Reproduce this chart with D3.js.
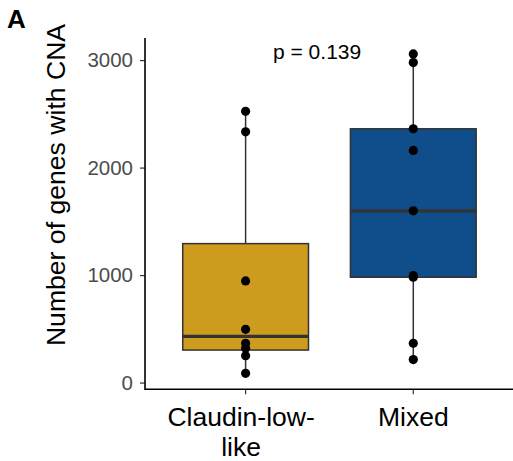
<!DOCTYPE html>
<head>
<meta charset="utf-8">
<script src="https://d3js.org/d3.v7.min.js"></script>
<style>
body { margin: 0; background-color: white; }
text { font-family: "Liberation Sans", Arial, Helvetica, sans-serif; }
</style>
</head>
<body>
<div id="my_dataviz"></div>
<script>

// data
var groups = ["Claudin-low-like", "Mixed"];
var groupLabels = [["Claudin-low-", "like"], ["Mixed"]];
var groupColors = ["#CD9B1D", "#104E8B"];
var claudinValues = [86, 250, 320, 365, 495, 946, 2333, 2523];
var mixedValues = [214, 366, 980, 995, 1598, 2160, 2361, 2977, 3057];
var yTicks = [0, 1000, 2000, 3000];
var pLabel = "p = 0.139";

var width = 513, height = 461;
var panel = {left: 145, right: 513.9, top: 38, bottom: 389.3};

var svg = d3.select("#my_dataviz")
  .append("svg")
    .attr("width", width)
    .attr("height", height);

var allValues = claudinValues.concat(mixedValues);
var lo = d3.min(allValues), hi = d3.max(allValues);
var pad = (hi - lo) * 0.05;

var y = d3.scaleLinear()
  .domain([lo - pad, hi + pad])
  .range([panel.bottom, panel.top]);

var x = d3.scaleBand()
  .domain(groups)
  .range([panel.left, panel.right])
  .paddingInner(0)
  .paddingOuter(0.1);

// box stats (R type 7 quantiles, whiskers at 1.5 IQR)
var series = [claudinValues, mixedValues];
var stats = series.map(function(vals, i) {
  var s = vals.slice().sort(d3.ascending);
  var q1 = d3.quantile(s, 0.25), med = d3.quantile(s, 0.5), q3 = d3.quantile(s, 0.75);
  var iqr = q3 - q1;
  var inside = s.filter(function(v) { return v >= q1 - 1.5 * iqr && v <= q3 + 1.5 * iqr; });
  return {group: groups[i], values: s, q1: q1, med: med, q3: q3,
          wlo: d3.min(inside), whi: d3.max(inside), color: groupColors[i]};
});

var boxW = x.bandwidth() * 0.75;

var g = svg.append("g");

stats.forEach(function(d) {
  var cx = x(d.group) + x.bandwidth() / 2;
  // whiskers
  g.append("line")
    .attr("x1", cx).attr("x2", cx)
    .attr("y1", y(d.q3)).attr("y2", y(d.whi))
    .style("stroke", "#333333").style("stroke-width", 1.5);
  g.append("line")
    .attr("x1", cx).attr("x2", cx)
    .attr("y1", y(d.q1)).attr("y2", y(d.wlo))
    .style("stroke", "#333333").style("stroke-width", 1.5);
  // box
  g.append("rect")
    .attr("x", cx - boxW / 2)
    .attr("y", y(d.q3))
    .attr("width", boxW)
    .attr("height", y(d.q1) - y(d.q3))
    .style("fill", d.color)
    .style("stroke", "#333333")
    .style("stroke-width", 1.5);
  // median
  g.append("line")
    .attr("x1", cx - boxW / 2).attr("x2", cx + boxW / 2)
    .attr("y1", y(d.med)).attr("y2", y(d.med))
    .style("stroke", "#333333").style("stroke-width", 3.2);
  // points
  g.selectAll(null)
    .data(d.values)
    .enter()
    .append("circle")
      .attr("cx", cx)
      .attr("cy", function(v) { return y(v); })
      .attr("r", 4.6)
      .style("fill", "black");
});

// y axis
var yAxis = svg.append("g")
  .attr("transform", "translate(" + panel.left + ",0)")
  .call(d3.axisLeft(y).tickValues(yTicks).tickSize(5).tickPadding(7).tickFormat(d3.format("d")));
yAxis.select(".domain").remove();
yAxis.selectAll(".tick line").style("stroke", "#333333").style("stroke-width", 1.2);
yAxis.selectAll(".tick text")
  .style("font-size", "20.5px")
  .style("fill", "#4D4D4D")
  .style("font-family", "'Liberation Sans', Arial, sans-serif");

// x axis
var xAxis = svg.append("g")
  .attr("transform", "translate(0," + panel.bottom + ")")
  .call(d3.axisBottom(x).tickSize(5).tickFormat(""));
xAxis.select(".domain").remove();
xAxis.selectAll(".tick line").style("stroke", "#333333").style("stroke-width", 1.2);

// axis lines
svg.append("path")
  .attr("d", "M" + panel.left + "," + panel.top + "V" + panel.bottom + "H" + panel.right)
  .style("fill", "none")
  .style("stroke", "black")
  .style("stroke-width", 1.6);

// category labels
groups.forEach(function(gname, i) {
  var t = svg.append("text")
    .attr("text-anchor", "middle")
    .style("font-size", "26.5px")
    .style("fill", "black");
  groupLabels[i].forEach(function(line, j) {
    t.append("tspan")
      .attr("x", x(gname) + x.bandwidth() / 2 - (groupLabels[i].length > 1 ? 4.5 : 0))
      .attr("y", 426 + j * 29.5)
      .text(line);
  });
});

// y axis title
svg.append("text")
  .attr("transform", "translate(65,185) rotate(-90)")
  .attr("text-anchor", "middle")
  .style("font-size", "26.6px")
  .style("fill", "black")
  .text("Number of genes with CNA");

// p value
svg.append("text")
  .attr("x", 273)
  .attr("y", 59)
  .style("font-size", "21px")
  .style("fill", "black")
  .text(pLabel);

// panel tag
svg.append("text")
  .attr("x", 7)
  .attr("y", 28)
  .style("font-size", "26px")
  .style("font-weight", "bold")
  .style("fill", "black")
  .text("A");

</script>
</body>
